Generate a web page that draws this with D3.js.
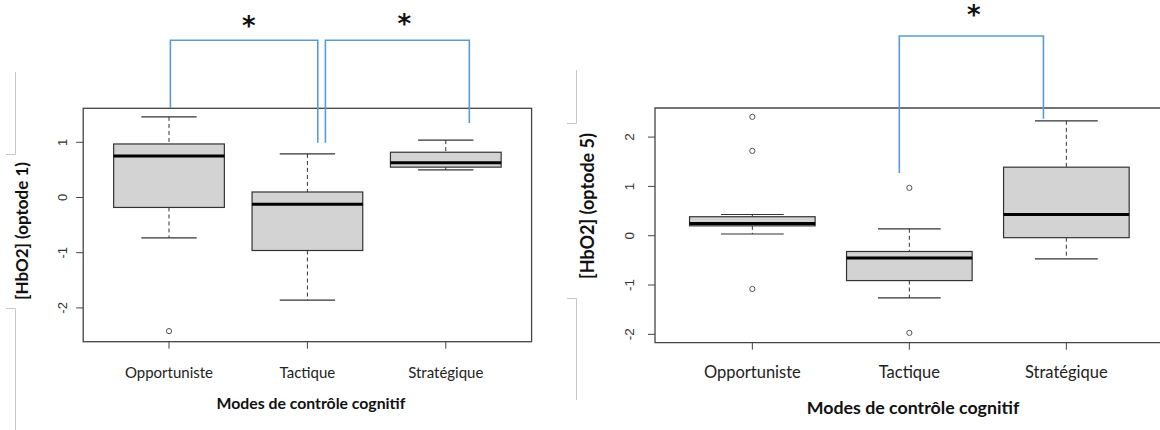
<!DOCTYPE html>
<html><head><meta charset="utf-8">
<script src="https://cdn.jsdelivr.net/npm/d3@7"></script>
<style>
html,body{margin:0;padding:0;background:#fff;}
svg{display:block;}
</style></head>
<body>
<svg id="chart" width="1160" height="430"></svg>
<script>
// ---------- DATA ----------
const categories = ["Opportuniste", "Tactique", "Stratégique"];

// Panel 1 : [HbO2] (optode 1)
const p1Lower   = [-0.73, -1.86, 0.50];
const p1Q1      = [-0.18, -0.96, 0.55];
const p1Median  = [0.75, -0.12, 0.63];
const p1Q3      = [0.97, 0.10, 0.82];
const p1Upper   = [1.46, 0.79, 1.04];
const p1Outliers = [[-2.42], [], []];
const p1Ticks   = [-2, -1, 0, 1];

// Panel 2 : [HbO2] (optode 5)
const p2Lower   = [0.035, -1.26, -0.47];
const p2Q1      = [0.20, -0.91, -0.04];
const p2Median  = [0.25, -0.45, 0.43];
const p2Q3      = [0.385, -0.32, 1.39];
const p2Upper   = [0.43, 0.14, 2.33];
const p2Outliers = [[2.41, 1.72, -1.08], [0.97, -1.97], []];
const p2Ticks   = [-2, -1, 0, 1, 2];

const yLabels = ["[HbO2] (optode 1)", "[HbO2] (optode 5)"];
const xTitle  = "Modes de contrôle cognitif";

// significance brackets: [fromCategory, toCategory, topValue, fromLegEnd, toLegEnd, starPos, starValue]
const p1Brackets = [[1.01, 2.075, 2.85, 1.62, 0.99, 1.576, 3.20],
                    [2.13, 3.17, 2.85, 0.99, 1.35, 2.70, 3.25]];
const p2Brackets = [[1.936, 2.854, 4.05, 1.27, 2.37, 2.41, 4.58]];

// ---------- LAYOUT ----------
const svg = d3.select("#chart");
const FONT = "Lato, 'Open Sans', sans-serif";

const panels = [
  {lower:p1Lower,q1:p1Q1,med:p1Median,q3:p1Q3,upper:p1Upper,out:p1Outliers,ticks:p1Ticks,br:p1Brackets,
   x0:83.2, x1:531.6, y0:108.3, y1:341.7, yDom:[-2.612,1.616], ylab:yLabels[0],
   ylabX:22, ylabY:231, ylabSize:17, tickLabX:62, tickSize:13, catSize:15, catY:378, titleY:409, titleSize:15.8, titleX:311, rightEdge:true},
  {lower:p2Lower,q1:p2Q1,med:p2Median,q3:p2Q3,upper:p2Upper,out:p2Outliers,ticks:p2Ticks,br:p2Brackets,
   x0:655, x1:1163.7, y0:108, y1:342.7, yDom:[-2.17,2.59], ylab:yLabels[1],
   ylabX:588, ylabY:206, ylabSize:18, tickLabX:629, tickSize:13.5, catSize:16.5, catY:378, titleY:414, titleSize:17.8, titleX:913, rightEdge:false}
];

// faint image-border artifacts
const deco = svg.append("g").attr("stroke","#c8c8c8").attr("stroke-width",1).attr("fill","none");
deco.append("path").attr("d","M15.5,72V154.5H6");
deco.append("path").attr("d","M6,308.5H15.5V430");
deco.append("path").attr("d","M576.5,70V123.5H567");
deco.append("path").attr("d","M567,298.5H576.5V400");

panels.forEach(p => {
  const g = svg.append("g");
  const x = d3.scaleLinear().domain([0.38, 3.62]).range([p.x0, p.x1]);
  const y = d3.scaleLinear().domain(p.yDom).range([p.y1, p.y0]);
  const bw = (x(1.4) - x(0.6));
  const cw = bw / 2;

  // frame
  const fr = g.append("g").attr("stroke","#444").attr("stroke-width",1.3).attr("fill","none");
  if (p.rightEdge) {
    fr.append("rect").attr("x",p.x0).attr("y",p.y0).attr("width",p.x1-p.x0).attr("height",p.y1-p.y0);
  } else {
    fr.append("path").attr("d",`M${p.x1},${p.y0}H${p.x0}V${p.y1}H${p.x1}`);
  }

  // y axis ticks
  const yAx = g.append("g");
  p.ticks.forEach(t => {
    yAx.append("line").attr("x1",p.x0-7).attr("x2",p.x0).attr("y1",y(t)).attr("y2",y(t))
      .attr("stroke","#444").attr("stroke-width",1);
    yAx.append("text").attr("transform",`translate(${p.tickLabX},${y(t)}) rotate(-90)`)
      .attr("text-anchor","middle").attr("dy","0.35em")
      .attr("font-family","'Liberation Sans', Arial, sans-serif").attr("font-size",p.tickSize).attr("fill","#333")
      .text(t);
  });

  // x axis ticks & labels
  categories.forEach((c,i) => {
    g.append("line").attr("x1",x(i+1)).attr("x2",x(i+1)).attr("y1",p.y1).attr("y2",p.y1+7)
      .attr("stroke","#444").attr("stroke-width",1);
    g.append("text").attr("x",x(i+1)).attr("y",p.catY).attr("text-anchor","middle")
      .attr("font-family",FONT).attr("font-size",p.catSize).attr("fill","#222").text(c);
  });

  // axis titles
  g.append("text").attr("x",p.titleX).attr("y",p.titleY).attr("text-anchor","middle")
    .attr("font-family",FONT).attr("font-weight","bold").attr("font-size",p.titleSize).attr("fill","#111").text(xTitle);
  g.append("text").attr("transform",`translate(${p.ylabX},${p.ylabY}) rotate(-90)`)
    .attr("text-anchor","middle").attr("dy","0.35em")
    .attr("font-family",FONT).attr("font-weight","bold").attr("font-size",p.ylabSize).attr("fill","#111").text(p.ylab);

  // boxes
  categories.forEach((c,i) => {
    const cx = x(i+1);
    g.append("line").attr("x1",cx).attr("x2",cx).attr("y1",y(p.upper[i])).attr("y2",y(p.q3[i]))
      .attr("stroke","#333").attr("stroke-width",1).attr("stroke-dasharray","4,3");
    g.append("line").attr("x1",cx).attr("x2",cx).attr("y1",y(p.q1[i])).attr("y2",y(p.lower[i]))
      .attr("stroke","#333").attr("stroke-width",1).attr("stroke-dasharray","4,3");
    [p.upper[i], p.lower[i]].forEach(v => {
      g.append("line").attr("x1",cx-cw/2).attr("x2",cx+cw/2).attr("y1",y(v)).attr("y2",y(v))
        .attr("stroke","#333").attr("stroke-width",1.2);
    });
    g.append("rect").attr("x",cx-bw/2).attr("y",y(p.q3[i])).attr("width",bw)
      .attr("height",y(p.q1[i])-y(p.q3[i]))
      .attr("fill","#d3d3d3").attr("stroke","#333").attr("stroke-width",1.2);
    g.append("line").attr("x1",cx-bw/2).attr("x2",cx+bw/2).attr("y1",y(p.med[i])).attr("y2",y(p.med[i]))
      .attr("stroke","#000").attr("stroke-width",3);
    p.out[i].forEach(v => {
      g.append("circle").attr("cx",cx).attr("cy",y(v)).attr("r",2.6)
        .attr("fill","none").attr("stroke","#555").attr("stroke-width",1);
    });
  });

  // significance brackets
  p.br.forEach(b => {
    const xa = x(b[0]), xb = x(b[1]);
    g.append("path").attr("d",`M${xa},${y(b[3])}V${y(b[2])}H${xb}V${y(b[4])}`)
      .attr("fill","none").attr("stroke","#5b9bd5").attr("stroke-width",1.6);
    // star: glyph centre placed at the star value (glyph sits ~0.56em above baseline)
    g.append("text").attr("x",x(b[5])).attr("y",y(b[6]) + 14.5).attr("text-anchor","middle")
      .attr("font-family","'DejaVu Sans', sans-serif").attr("font-weight","bold").attr("font-size",26)
      .attr("fill","#111").text("*");
  });
});
</script>
</body></html>
